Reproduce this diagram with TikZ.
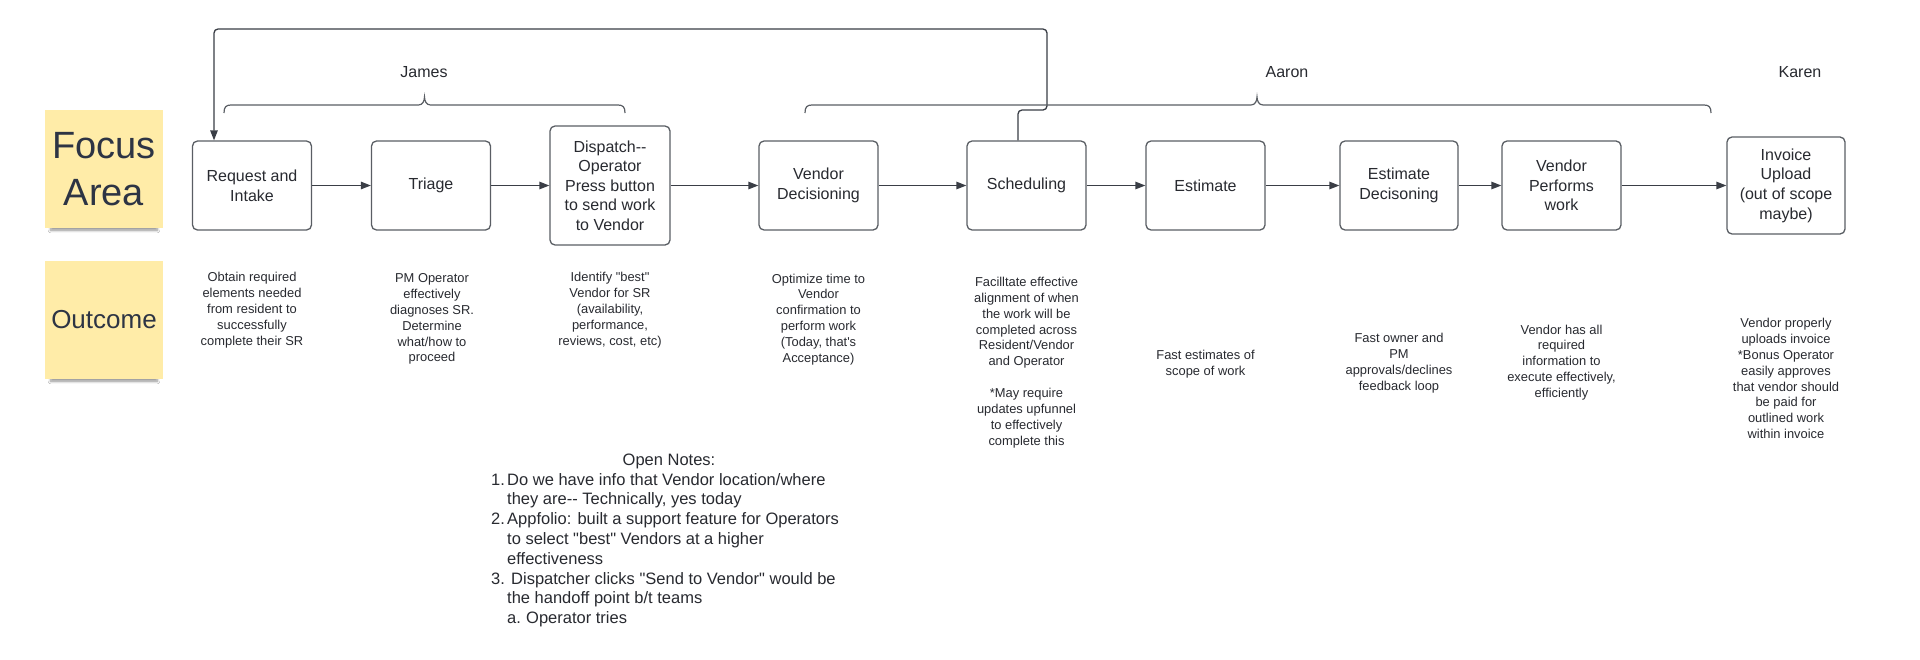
\documentclass[tikz,border=0pt]{standalone}
\usepackage{fontspec}
\setmainfont{Liberation Sans}
\usetikzlibrary{arrows.meta,shadows.blur}
\definecolor{sticky}{RGB}{255,236,168}
\definecolor{stickytxt}{RGB}{45,52,68}
\definecolor{txt}{RGB}{40,42,48}
\definecolor{boxc}{RGB}{90,94,100}
\definecolor{linec}{RGB}{58,62,70}
\newcommand{\dq}{\XeTeXglyph\XeTeXcharglyph"22\relax}
\newcommand{\sq}{\XeTeXglyph\XeTeXcharglyph"27\relax}
\newcommand{\topbrace}[3]{%
 \draw[bracec] (#1,113) .. controls (#1,107) and (#1+2,105) .. (#1+7,105) -- (#2-6,105) .. controls (#2-2,105) and (#2,101) .. (#2,97) .. controls (#2,101) and (#2+2,105) .. (#2+6,105) -- (#3-7,105) .. controls (#3-2,105) and (#3,107) .. (#3,113);}
\begin{document}
\begin{tikzpicture}[x=1pt,y=-1pt,
  stickynote/.style={fill=sticky, minimum width=118pt, minimum height=118pt, inner sep=0pt, align=center, text=stickytxt,
     blur shadow={shadow xshift=0pt, shadow yshift=-9pt, shadow scale=0.9, shadow opacity=45, shadow blur steps=6, shadow blur radius=3pt}},
  stepbox/.style={draw=boxc, line width=1.3pt, rounded corners=5pt, fill=white, align=center, inner sep=0pt,
     minimum width=119pt, minimum height=89pt, text=txt, font=\fontsize{16}{19.6}\selectfont},
  outc/.style={align=center, inner sep=0pt, text=txt, font=\fontsize{12.9}{15.9}\selectfont},
  who/.style={inner sep=0pt, text=txt, font=\fontsize{16}{19}\selectfont},
  conn/.style={draw=linec, line width=1.3pt, -{Triangle[length=10pt,width=7.5pt]}},
  bracec/.style={draw=boxc, line width=1.2pt},
]
\path[use as bounding box, fill=white] (0,0) rectangle (1920,659);

% sticky notes
\node[stickynote, font=\fontsize{38}{47}\selectfont] (focus) at (104,169) {Focus\\Area};
\node[stickynote, font=\fontsize{26}{30}\selectfont] (outcome) at (104,320) {Outcome};

% process boxes
\node[stepbox] (req) at (252,185.5) {Request and\\Intake};
\node[stepbox] (tri) at (431,185.5) {Triage};
\node[stepbox, minimum width=120pt, minimum height=119pt] (dis) at (610,185.5) {Dispatch{-}{-}\\Operator\\Press button\\to send work\\to Vendor};
\node[stepbox] (vd) at (818.5,185.5) {Vendor\\Decisioning};
\node[stepbox] (sch) at (1026.5,185.5) {Scheduling};
\node[stepbox] (est) at (1205.5,185.5) {Estimate};
\node[stepbox, minimum width=118pt] (ed) at (1399,185.5) {Estimate\\Decisoning};
\node[stepbox] (vp) at (1561.5,185.5) {Vendor\\Performs\\work};
\node[stepbox, minimum width=118pt, minimum height=97pt] (inv) at (1786,185.5) {Invoice\\Upload\\(out of scope\\maybe)};

% connectors
\draw[conn] (req.east) -- (tri.west);
\draw[conn] (tri.east) -- (dis.west);
\draw[conn] (dis.east) -- (vd.west);
\draw[conn] (vd.east) -- (sch.west);
\draw[conn] (sch.east) -- (est.west);
\draw[conn] (est.east) -- (ed.west);
\draw[conn] (ed.east) -- (vp.west);
\draw[conn] (vp.east) -- (inv.west);

% feedback loop
\coordinate (fb1) at (1047,110);
\coordinate (fb2) at (1047,29);
\coordinate (fb3) at (214,29);
\draw[conn, rounded corners=4pt] ([xshift=-8.5pt]sch.north) |- (fb1) -- (fb2) -- (fb3) -- (fb3 |- req.north);

% braces and owners
\topbrace{224}{424.5}{625}
\topbrace{805}{1257}{1711}
\node[who] (james) at (424,72) {James};
\node[who] (aaron) at (1287,72) {Aaron};
\node[who] (karen) at (1800,72) {Karen};

% outcomes
\node[outc] (o1) at (252,310) {Obtain required\\elements needed\\from resident to\\successfully\\complete their SR};
\node[outc] (o2) at (432,319) {PM Operator\\effectively\\diagnoses SR.\\Determine\\what/how to\\proceed};
\node[outc] (o3) at (610,310) {Identify \dq best\dq\\Vendor for SR\\(availability,\\performance,\\reviews, cost, etc)};
\node[outc] (o4) at (818.5,319.5) {Optimize time to\\Vendor\\confirmation to\\perform work\\(Today, that\sq s\\Acceptance)};
\node[outc] (o5) at (1026.5,362.5) {Facilltate effective\\alignment of when\\the work will be\\completed across\\Resident/Vendor\\and Operator\\\mbox{}\\{*}May require\\updates upfunnel\\to effectively\\complete this};
\node[outc] (o6) at (1205.5,364) {Fast estimates of\\scope of work};
\node[outc] (o7) at (1399,363.5) {Fast owner and\\PM\\approvals/declines\\feedback loop};
\node[outc] (o8) at (1561.5,362.5) {Vendor has all\\required\\information to\\execute effectively,\\efficiently};
\node[outc] (o9) at (1786,378.5) {Vendor properly\\uploads invoice\\{*}Bonus Operator\\easily approves\\that vendor should\\be paid for\\outlined work\\within invoice};

% open notes
\node[inner sep=0pt, text=txt, font=\fontsize{16.5}{19.8}\selectfont] (ontitle) at (669,461) {Open Notes:};
\node[inner sep=0pt, text=txt, anchor=north west, align=left, font=\fontsize{16.5}{19.8}\selectfont] (notes) at (491,473) {%
\makebox[16pt][l]{1.}Do we have info that Vendor location/where\\
\hspace*{16pt}they are{-}{-} Technically, yes today\\
\makebox[16pt][l]{2.}Appfolio: built a support feature for Operators\\
\hspace*{16pt}to select \dq best\dq{} Vendors at a higher\\
\hspace*{16pt}effectiveness\\
\makebox[16pt][l]{3.}\hspace*{4pt}Dispatcher clicks \dq Send to Vendor\dq{} would be\\
\hspace*{16pt}the handoff point b/t teams\\
\hspace*{16pt}\makebox[19pt][l]{a.}Operator tries};
\end{tikzpicture}
\end{document}
